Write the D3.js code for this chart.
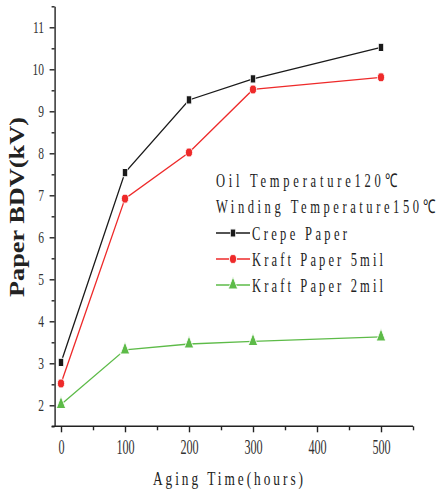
<!DOCTYPE html>
<html>
<head>
<meta charset="utf-8">
<script src="https://cdn.jsdelivr.net/npm/d3@7"></script>
<style>
  body { margin: 0; background: #fff; }
  svg { display: block; }
</style>
</head>
<body>
<script>
// values
var hours = [0, 100, 200, 300, 500];
var crepe = [3.02, 7.54, 9.27, 9.77, 10.52];
var kraft5 = [2.52, 6.92, 8.02, 9.52, 9.81];
var kraft2 = [2.02, 3.32, 3.46, 3.52, 3.63];
var seriesNames = ["Crepe Paper", "Kraft Paper 5mil", "Kraft Paper 2mil"];
var legendTitles = ["Oil Temperature120\u2103", "Winding Temperature150\u2103"];
var xTicks = [0, 100, 200, 300, 400, 500];
var yTicks = [2, 3, 4, 5, 6, 7, 8, 9, 10, 11];

var width = 438, height = 493;
var colors = ["#1a1a1a", "#ee2a2a", "#5dbb48"];
var shapes = [d3.symbolSquare, d3.symbolCircle, d3.symbolTriangle];

var svg = d3.select("body").append("svg")
    .attr("width", width)
    .attr("height", height);

var x = d3.scaleLinear().domain([-10, 550]).range([54.6, 413]);
var y = d3.scaleLinear().domain([1.5, 11.5]).range([426.3, 6.3]);

// narrow, stretched serif text like the original
function stretchText(g, tx, ty, str, size, sx, len, anchor) {
    var t = g.append("text")
        .attr("transform", "translate(" + tx + "," + ty + ") scale(" + sx + ",1)")
        .attr("font-family", "Liberation Serif, serif")
        .attr("font-size", size)
        .attr("fill", "#222")
        .attr("text-anchor", anchor || "start")
        .text(str);
    if (len) t.attr("textLength", len / sx).attr("lengthAdjust", "spacing");
    return t;
}

// minor ticks
var minorX = d3.range(50, 551, 100);
var minorY = d3.range(1.5, 11.6, 1);

svg.append("g")
    .attr("transform", "translate(0," + y(1.5) + ")")
    .call(d3.axisBottom(x).tickValues(minorX).tickSize(4).tickFormat(""))
    .call(function(g) { g.select(".domain").remove(); });

svg.append("g")
    .attr("transform", "translate(" + x(-10) + ",0)")
    .call(d3.axisLeft(y).tickValues(minorY).tickSize(3).tickFormat(""))
    .call(function(g) { g.select(".domain").remove(); });

// x axis
var xAxis = svg.append("g")
    .attr("transform", "translate(0," + y(1.5) + ")")
    .call(d3.axisBottom(x).tickValues(xTicks).tickSize(6).tickSizeOuter(0));
xAxis.select(".domain").attr("d", "M51.7,0H413");
xAxis.selectAll("text")
    .attr("font-family", "Liberation Serif, serif")
    .attr("font-size", 21)
    .attr("fill", "#333")
    .attr("y", 28)
    .attr("dy", null)
    .attr("transform", "scale(0.58,1)");

// y axis
var yAxis = svg.append("g")
    .attr("transform", "translate(" + x(-10) + ",0)")
    .call(d3.axisLeft(y).tickValues(yTicks).tickSize(5).tickSizeOuter(0));
yAxis.selectAll("text")
    .attr("font-family", "Liberation Serif, serif")
    .attr("font-size", 16)
    .attr("fill", "#333")
    .attr("x", -10.6 / 0.72)
    .attr("dy", "0.34em")
    .attr("transform", "scale(0.72,1)");

svg.selectAll(".domain, .tick line")
    .attr("stroke", "#222")
    .attr("stroke-width", 1.4);

// series
var allSeries = [crepe, kraft5, kraft2];
var line = d3.line()
    .x(function(d, i) { return x(hours[i]); })
    .y(function(d) { return y(d); });

allSeries.forEach(function(vals, k) {
    svg.append("path")
        .datum(vals)
        .attr("fill", "none")
        .attr("stroke", colors[k])
        .attr("stroke-width", 1.3)
        .attr("d", line);
});

function marker(g, k, cx, cy) {
    var sizes = [40, 44, 52];
    var sy = [1.3, 1.2, 1.3];
    var sx = [0.8, 0.95, 0.85];
    g.append("path")
        .attr("d", d3.symbol().type(shapes[k]).size(sizes[k])())
        .attr("transform", "translate(" + cx + "," + cy + ") scale(" + sx[k] + "," + sy[k] + ")")
        .attr("fill", colors[k])
        .attr("stroke", "#fff")
        .attr("stroke-width", 0.8);
}

allSeries.forEach(function(vals, k) {
    vals.forEach(function(v, i) {
        marker(svg, k, x(hours[i]), y(v));
    });
});

// axis titles
svg.append("text")
    .attr("transform", "translate(24,207) rotate(-90)")
    .attr("font-family", "Liberation Serif, serif")
    .attr("font-weight", "bold")
    .attr("font-size", 20)
    .attr("fill", "#222")
    .attr("text-anchor", "middle")
    .attr("textLength", 180)
    .attr("lengthAdjust", "spacingAndGlyphs")
    .text("Paper BDV(kV)");

stretchText(svg, 153, 485, "Aging Time(hours)", 18.5, 0.72, 150);

// legend
var leg = svg.append("g");
stretchText(leg, 216, 187, legendTitles[0], 19, 0.66, 181);
stretchText(leg, 216, 213, legendTitles[1], 19, 0.66, 219);

var legY = [233, 259, 285];
var legW = [95, 131, 131];
seriesNames.forEach(function(name, k) {
    leg.append("line")
        .attr("x1", 216).attr("x2", 250)
        .attr("y1", legY[k]).attr("y2", legY[k])
        .attr("stroke", colors[k])
        .attr("stroke-width", 1.3);
    marker(leg, k, 233, legY[k]);
    stretchText(leg, 252, legY[k] + 7, name, 19, 0.66, legW[k]);
});
</script>
</body>
</html>
